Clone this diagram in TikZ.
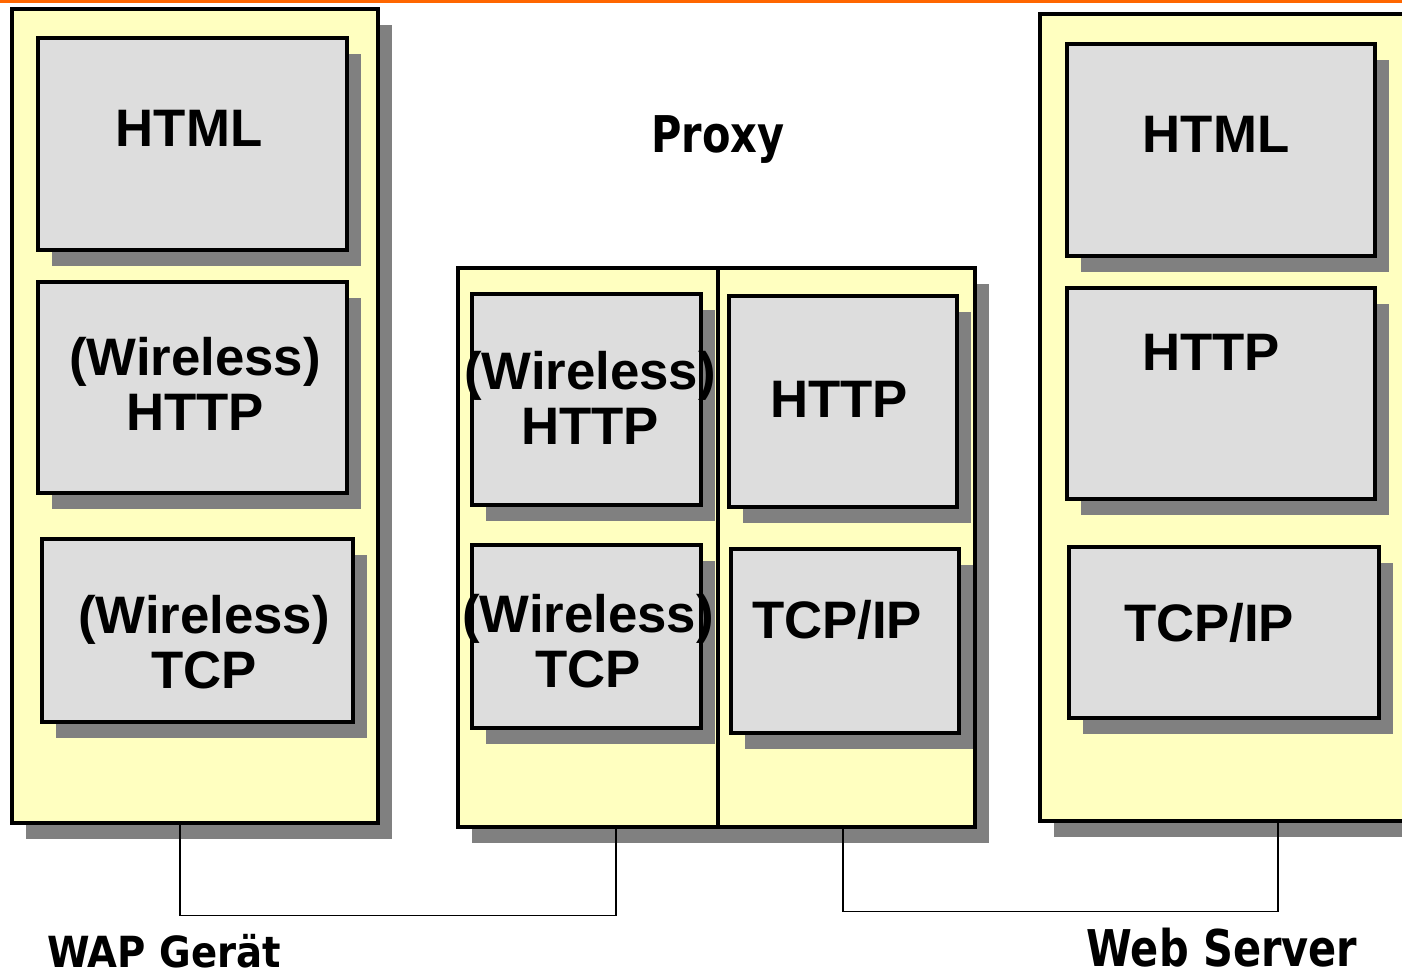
\documentclass[tikz,border=0pt]{standalone}
\usepackage{fontspec}
\setmainfont{Liberation Sans}
\newfontfamily\titlefont{DejaVu Sans}
\usetikzlibrary{fit,shadows}
\definecolor{stackyellow}{RGB}{255,255,192}
\definecolor{layergray}{RGB}{221,221,221}
\definecolor{shadowgray}{RGB}{128,128,128}
\definecolor{barorange}{RGB}{255,102,0}
\tikzset{
  shadowed/.style={drop shadow={shadow xshift=0.14cm,shadow yshift=-0.16cm,fill=shadowgray,opacity=1}},
  stack/.style={draw,line width=0.9pt,fill=stackyellow,inner sep=0pt,shadowed},
  layer/.style={draw,line width=0.9pt,fill=layergray,inner sep=0pt,shadowed},
  lbl/.style={font=\bfseries\fontsize{15}{15.6}\selectfont,align=center,inner sep=0pt},
  title/.style={font=\titlefont\bfseries,inner sep=0pt,anchor=base},
  wire/.style={line width=0.5pt}
}

\begin{document}
\begin{tikzpicture}[x=0.01cm,y=-0.01cm]
\useasboundingbox (0,0) rectangle (1402,976);
\fill[barorange] (0,0) rectangle (1402,3);
% stacks
\node[stack,fit={(12,9) (378,823)}] (wap) {};
\node[stack,fit={(458,268) (975,827)}] (proxy) {};
\node[stack,fit={(1040,14) (1430,821)}] (web) {};
\draw[line width=0.9pt] (proxy.north -| 718,0) -- (proxy.south -| 718,0);
% layers of the WAP device
\node[layer,fit={(38,38) (347,250)}] (wapHtml) {};
\node[layer,fit={(38,282) (347,493)}] (wapHttp) {};
\node[layer,fit={(42,539) (353,722)}] (wapTcp) {};
% layers of the proxy
\node[layer,fit={(472,294) (701,505)}] (pxWhttp) {};
\node[layer,fit={(472,545) (701,728)}] (pxWtcp) {};
\node[layer,fit={(729,296) (957,507)}] (pxHttp) {};
\node[layer,fit={(731,549) (959,733)}] (pxTcp) {};
% layers of the web server
\node[layer,fit={(1067,44) (1375,256)}] (webHtml) {};
\node[layer,fit={(1067,288) (1375,499)}] (webHttp) {};
\node[layer,fit={(1069,547) (1379,718)}] (webTcp) {};
% texts
\node[lbl,anchor=base] (tWapHtml) at (189,147) {HTML};
\node[lbl] (tWapHttp) at (195,384) {(Wireless)\\HTTP};
\node[lbl] (tWapTcp) at (204,642) {(Wireless)\\TCP};
\node[lbl] (tPxWhttp) at (590,398) {(Wireless)\\HTTP};
\node[lbl] (tPxWtcp) at (588,641) {(Wireless)\\TCP};
\node[lbl,anchor=base] (tPxHttp) at (839,418) {HTTP};
\node[lbl,anchor=base] (tPxTcp) at (837,638) {TCP/IP};
\node[lbl,anchor=base] (tWebHtml) at (1216,153) {HTML};
\node[lbl,anchor=base] (tWebHttp) at (1211,371) {HTTP};
\node[lbl,anchor=base] (tWebTcp) at (1209,642) {TCP/IP};
\node[title,font=\titlefont\bfseries\fontsize{14.4}{16}\selectfont] (tProxy) at (718,153) {\scalebox{0.82}[1]{Proxy}};
\node[title,font=\titlefont\bfseries\fontsize{12.2}{14}\selectfont] (tWap) at (164,967) {\scalebox{0.9}[1]{WAP Gerät}};
\node[title,font=\titlefont\bfseries\fontsize{14.4}{16}\selectfont] (tWeb) at (1222,966) {\scalebox{0.82}[1]{Web Server}};
% links
\draw[wire] (wap.south -| 180,0) -- ++(0,91) -| (proxy.south -| 616,0);
\draw[wire] (proxy.south -| 843,0) -- ++(0,83) -| (web.south -| 1278,0);
\end{tikzpicture}
\end{document}
